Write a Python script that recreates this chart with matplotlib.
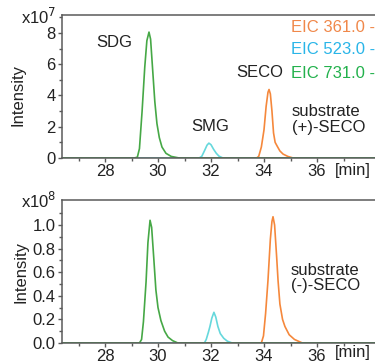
import matplotlib
matplotlib.use("Agg")
import matplotlib.pyplot as plt
from matplotlib.ticker import FixedLocator

plt.rcParams['font.family'] = ['Liberation Sans', 'DejaVu Sans']
FS = 12

# ---- traces (time in min, intensity in axis units) ----
# top panel, substrate (+)-SECO, units x1e7
t_sdg_p = [26.4, 29.10, 29.22, 29.30, 29.40, 29.50, 29.58, 29.66, 29.72, 29.80, 29.88, 29.96, 30.05, 30.15, 30.30, 30.50, 30.80, 38.5]
i_sdg_p = [0, 0, 0.05, 0.6, 3.0, 5.8, 7.5, 8.05, 7.6, 5.6, 3.6, 2.2, 1.3, 0.7, 0.3, 0.1, 0, 0]
t_smg_p = [26.4, 31.55, 31.65, 31.75, 31.85, 31.92, 32.00, 32.10, 32.20, 32.30, 32.45, 38.5]
i_smg_p = [0, 0, 0.1, 0.45, 0.82, 0.95, 0.85, 0.55, 0.3, 0.12, 0, 0]
t_seco_p = [26.4, 33.72, 33.80, 33.90, 34.00, 34.08, 34.15, 34.19, 34.24, 34.30, 34.36, 34.42, 34.50, 34.60, 34.72, 34.90, 35.10, 38.5]
i_seco_p = [0, 0, 0.1, 0.7, 1.8, 3.3, 4.2, 4.38, 4.1, 3.0, 1.6, 1.0, 0.75, 0.45, 0.25, 0.1, 0, 0]

# bottom panel, substrate (-)-SECO, units x1e8
t_sdg_m = [26.4, 29.30, 29.38, 29.45, 29.55, 29.62, 29.70, 29.76, 29.84, 29.92, 30.00, 30.11, 30.25, 30.38, 30.55, 30.75, 38.5]
i_sdg_m = [0, 0, 0.03, 0.18, 0.52, 0.85, 1.04, 0.98, 0.72, 0.45, 0.30, 0.19, 0.10, 0.05, 0.02, 0, 0]
t_smg_m = [26.4, 31.75, 31.82, 31.90, 31.96, 32.03, 32.11, 32.18, 32.26, 32.35, 32.48, 32.62, 32.80, 38.5]
i_smg_m = [0, 0, 0.03, 0.09, 0.14, 0.21, 0.26, 0.22, 0.14, 0.08, 0.04, 0.015, 0, 0]
t_seco_m = [26.4, 33.90, 33.98, 34.06, 34.15, 34.24, 34.30, 34.34, 34.40, 34.48, 34.53, 34.60, 34.70, 34.79, 34.95, 35.15, 35.45, 38.5]
i_seco_m = [0, 0, 0.06, 0.25, 0.53, 0.88, 1.03, 1.07, 1.0, 0.72, 0.53, 0.33, 0.2, 0.14, 0.07, 0.03, 0, 0]

x_major = [28, 30, 32, 34, 36]
x_minor = [27, 29, 31, 33, 35, 37]
y_major_p = [0, 2, 4, 6, 8]
y_minor_p = [1, 3, 5, 7, 9]
y_major_m = [0.0, 0.2, 0.4, 0.6, 0.8, 1.0]
y_minor_m = [0.1, 0.3, 0.5, 0.7, 0.9, 1.1]

legend_labels = ["EIC 361.0 -", "EIC 523.0 -", "EIC 731.0 -"]
legend_colors = ["#f0884a", "#29b5e8", "#22b14c"]

c_orange = "#f5883c"
c_cyan = "#66d8dc"
c_green = "#46a846"
spine_c = "#5a5a5a"
txt_c = "#222222"

fig = plt.figure(figsize=(3.75, 3.62), dpi=100)
W, H = 375.0, 362.0
left = 62 / W
width = (392 - 62) / W
ax1 = fig.add_axes([left, 1 - 158 / H, width, (158 - 15) / H])
ax2 = fig.add_axes([left, 1 - 343 / H, width, (343 - 200) / H])

x0 = 28 - (105 - 62) / 26.5
x1 = 28 + (392 - 105) / 26.5


def style(ax, ymax, ymaj, ymin, fmt):
    ax.set_xlim(x0, x1)
    ax.set_ylim(0, ymax)
    ax.xaxis.set_major_locator(FixedLocator(x_major))
    ax.xaxis.set_minor_locator(FixedLocator(x_minor))
    ax.yaxis.set_major_locator(FixedLocator(ymaj))
    ax.yaxis.set_minor_locator(FixedLocator(ymin))
    ax.yaxis.set_major_formatter(plt.FuncFormatter(lambda v, p: fmt.format(v)))
    for s in ax.spines.values():
        s.set_color(spine_c)
        s.set_linewidth(1.1)
    ax.spines['right'].set_visible(False)
    ax.tick_params(which='both', direction='out', color=spine_c, labelsize=FS, labelcolor=txt_c)
    ax.tick_params(which='major', length=3, width=1, pad=1.5)
    ax.tick_params(axis='x', which='major', pad=1)
    ax.tick_params(which='minor', length=2, width=1)


style(ax1, 8 + 18 / 15.75, y_major_p, y_minor_p, "{:.0f}")
style(ax2, 1.0 + 25 / 118.0, y_major_m, y_minor_m, "{:.1f}")

ax1.plot(t_seco_p, i_seco_p, color=c_orange, lw=1.2)
ax1.plot(t_smg_p, i_smg_p, color=c_cyan, lw=1.2)
ax1.plot(t_sdg_p, i_sdg_p, color=c_green, lw=1.2)

ax2.plot(t_seco_m, i_seco_m, color=c_orange, lw=1.2)
ax2.plot(t_smg_m, i_smg_m, color=c_cyan, lw=1.2)
ax2.plot(t_sdg_m, i_sdg_m, color=c_green, lw=1.2)

# peak names
ax1.text(28.34, 7.37, "SDG", fontsize=FS, ha='center', va='center', color=txt_c)
ax1.text(31.96, 2.03, "SMG", fontsize=FS, ha='center', va='center', color=txt_c)
ax1.text(33.85, 5.46, "SECO", fontsize=FS, ha='center', va='center', color=txt_c)
ax1.text(35.06, 2.48, "substrate\n(+)-SECO", fontsize=FS, ha='left', va='center',
         color=txt_c, linespacing=1.05)
ax2.text(35.02, 0.55, "substrate\n(-)-SECO", fontsize=FS, ha='left', va='center',
         color=txt_c, linespacing=1.05)

# legend
for k, (lab, col) in enumerate(zip(legend_labels, legend_colors)):
    fig.text(291 / W, 1 - (27 + 23 * k) / H, lab, color=col, fontsize=FS, ha='left', va='center')

# multipliers, axis labels
fig.text(56 / W, 1 - 17 / H, r"x10$^7$", fontsize=FS, ha='right', va='center', color=txt_c)
fig.text(56 / W, 1 - 201 / H, r"x10$^8$", fontsize=FS, ha='right', va='center', color=txt_c)
fig.text(18 / W, 1 - 95 / H, "Intensity", fontsize=FS, rotation=90, ha='center', va='center', color=txt_c)
fig.text(21 / W, 1 - 272 / H, "Intensity", fontsize=FS, rotation=90, ha='center', va='center', color=txt_c)
fig.text(353 / W, 1 - 170 / H, "[min]", fontsize=FS, ha='center', va='center', color=txt_c)
fig.text(353 / W, 1 - 353 / H, "[min]", fontsize=FS, ha='center', va='center', color=txt_c)

fig.savefig("out.png", dpi=100)
